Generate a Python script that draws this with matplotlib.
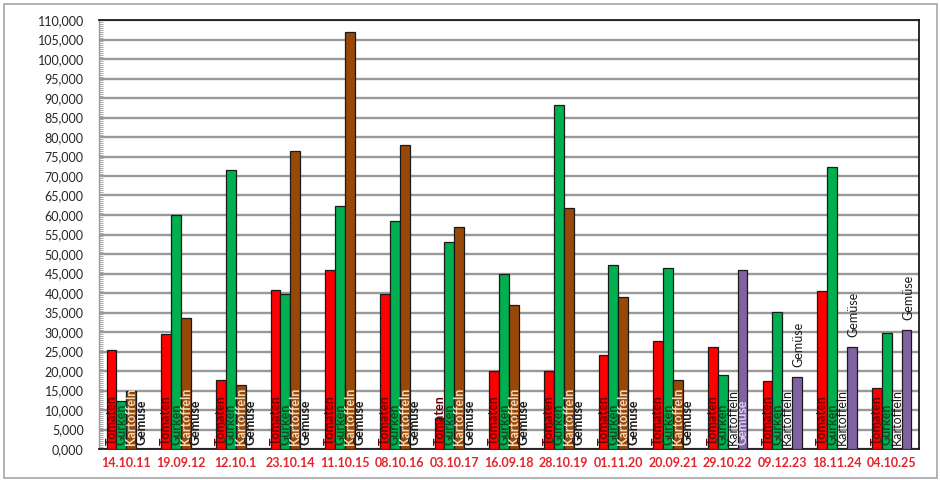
import matplotlib.pyplot as plt
import matplotlib.ticker as ticker
from matplotlib.patches import Rectangle
import numpy as np

plt.rcParams['font.family'] = ['Lato', 'DejaVu Sans']

# Erntedaten
termine = ['14.10.11', '19.09.12', '12.10.1', '23.10.14', '11.10.15', '08.10.16', '03.10.17',
           '16.09.18', '28.10.19', '01.11.20', '20.09.21', '29.10.22', '09.12.23', '18.11.24', '04.10.25']
tomaten = [25500, 29400, 17600, 40700, 46000, 39700, 7900, 19900, 19900, 24000, 27600, 26200, 17500, 40400, 15600]
gurken = [12200, 60000, 71600, 39700, 62200, 58500, 53000, 44800, 88100, 47200, 46300, 18900, 35100, 72300, 29800]
kartoffeln = [14800, 33600, 16300, 76500, 107000, 78000, 56900, 36900, 61700, 39000, 17700, 0, 0, 0, 0]
gemuese = [0, 0, 0, 0, 0, 0, 0, 0, 0, 0, 0, 45900, 18500, 26200, 30600]

serien = ['Tomaten', 'Gurken', 'Kartoffeln', 'Gemüse']
werte = [tomaten, gurken, kartoffeln, gemuese]
farben = ['#ff0000', '#00b050', '#984807', '#8064a2']
label_farben = ['#6b0000', '#0b4d22', '#f2dcc4', '#dcd0ee']

# ab 2023 steht das Gemüse-Label über dem Balken
gemuese_oben = ['09.12.23', '18.11.24', '04.10.25']

fig = plt.figure(figsize=(9.4, 4.8), dpi=100)
ax = fig.add_axes([99 / 940, 1 - 449 / 480, 820 / 940, 429 / 480])

x = np.arange(len(termine))
breite = 0.181
for k, (name, vals) in enumerate(zip(serien, werte)):
    pos = x + (k - 1.5) * breite
    ax.bar(pos, vals, width=breite, color=farben[k], edgecolor='#1a1a1a', linewidth=0.9, zorder=3)
    for i, v in enumerate(vals):
        if name == 'Gemüse' and termine[i] in gemuese_oben:
            ax.annotate(name, (pos[i], v), xytext=(1, 7), textcoords='offset points',
                        rotation=90, ha='center', va='bottom', fontsize=9, color='#1a1a1a', zorder=4)
            continue
        if v == 0:
            farbe = '#1a1a1a'
            gewicht = 'normal' if gemuese[i] > 0 else 'bold'
        else:
            farbe = label_farben[k]
            gewicht = 'bold'
        ax.annotate(name, (pos[i], 0), xytext=(0, 3), textcoords='offset points',
                    rotation=90, ha='center', va='bottom', fontsize=9, color=farbe,
                    fontweight=gewicht, zorder=4)

ax.set_xlim(-0.5, len(termine) - 0.5)
ax.set_ylim(0, 110000)
ax.yaxis.set_major_locator(ticker.MultipleLocator(5000))
ax.yaxis.set_minor_locator(ticker.MultipleLocator(500))
ax.yaxis.set_major_formatter(ticker.FuncFormatter(lambda v, p: f"{v / 1000:.3f}".replace('.', ',')))
ax.tick_params(axis='y', which='major', length=0, pad=11, labelsize=9, labelcolor='#262626')
ax.tick_params(axis='y', which='minor', length=3, width=0.6, color='#999999', direction='in')
ax.set_xticks(x)
ax.set_xticklabels(termine, fontsize=9, fontweight='bold', color='#e3262e')
ax.tick_params(axis='x', length=0, pad=6)

ax.grid(axis='y', color='#999999', linewidth=1.7, zorder=0)
ax.set_axisbelow(True)
for s in ['top', 'right', 'bottom']:
    ax.spines[s].set_color('#1a1a1a')
    ax.spines[s].set_linewidth(1.3)
ax.spines['left'].set_color('#999999')
ax.spines['left'].set_linewidth(1.0)

# grauer Rahmen um das ganze Diagramm
fig.patches.append(Rectangle((4 / 940, 2 / 480), 933 / 940, 474 / 480, transform=fig.transFigure,
                             fill=False, edgecolor='#a6a6a6', linewidth=1.2))

fig.savefig('out.png', dpi=100)
